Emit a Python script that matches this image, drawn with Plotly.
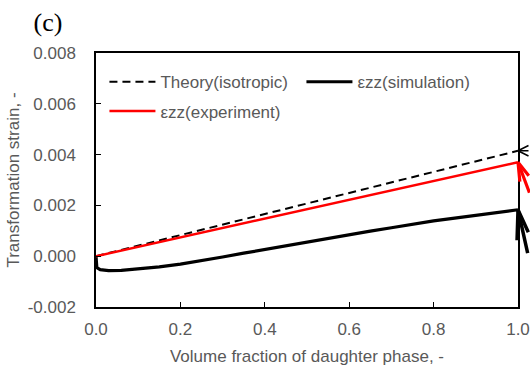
import plotly.graph_objects as go

# Volume fraction of the daughter phase
x_theory = [0.0, 1.0]
y_theory = [0.0, 0.00415]

x_exp = [0.0, 1.0]
y_exp = [0.0, 0.0037]

x_sim = [0.0, 0.002, 0.01, 0.03, 0.06, 0.1, 0.15, 0.2, 0.25, 0.3, 0.35, 0.4,
         0.45, 0.5, 0.55, 0.6, 0.65, 0.7, 0.75, 0.8, 0.85, 0.9, 0.95, 1.0]
y_sim = [0.0, -0.00045, -0.00053, -0.00057, -0.00056, -0.0005, -0.00042,
         -0.00031, -0.00018, -0.00003, 0.00012, 0.00027, 0.00042, 0.00057,
         0.00071, 0.00085, 0.00099, 0.00112, 0.00126, 0.00139, 0.0015,
         0.00161, 0.00172, 0.00183]

x_ticks = [0.0, 0.2, 0.4, 0.6, 0.8, 1.0]
x_tick_labels = ["0.0", "0.2", "0.4", "0.6", "0.8", "1.0"]
y_ticks = [-0.002, 0.0, 0.002, 0.004, 0.006, 0.008]
y_tick_labels = ["-0.002", "0.000", "0.002", "0.004", "0.006", "0.008"]

GREY = "#595959"
FONT = "Liberation Sans, Arial, sans-serif"

fig = go.Figure()
fig.add_trace(go.Scatter(
    x=x_theory, y=y_theory, mode="lines", name="Theory(isotropic)",
    line=dict(color="black", width=2, dash="8px,5px"), legend="legend"))
fig.add_trace(go.Scatter(
    x=x_sim, y=y_sim, mode="lines", name="εzz(simulation)",
    line=dict(color="black", width=3.2), legend="legend"))
fig.add_trace(go.Scatter(
    x=x_exp, y=y_exp, mode="lines", name="εzz(experiment)",
    line=dict(color="#ff0000", width=2.5), legend="legend2"))

# Pointer arrows at the end of each curve (shaft + two head arms)
def arrow(y, shaft, arms, color, width):
    for dx, dy in [shaft] + arms:
        fig.add_annotation(x=1.0, y=y, xref="x", yref="y", text="",
                           showarrow=True, arrowhead=0, ax=dx, ay=dy,
                           arrowcolor=color, arrowwidth=width, standoff=0)

arrow(y_theory[-1], (45, 0), [(14, -6), (14, 6)], "black", 1.5)
arrow(y_exp[-1], (12, 32), [(2, 21), (14, 15)], "#ff0000", 3.2)
arrow(y_sim[-1], (10, 45), [(-1, 32), (11, 24)], "black", 3.5)

axis_common = dict(
    showline=True, linecolor="black", linewidth=1.5, mirror=True,
    ticks="inside", ticklen=5, tickwidth=1, tickcolor="black",
    showgrid=False, zeroline=False,
    tickfont=dict(family=FONT, size=17, color=GREY),
    title_font=dict(family=FONT, size=17, color=GREY),
)

fig.update_xaxes(range=[0, 1], tickvals=x_ticks, ticktext=x_tick_labels,
                 title_text="Volume fraction of daughter phase, -",
                 title_standoff=12, ticklabelstandoff=6, **axis_common)
fig.update_yaxes(range=[-0.002, 0.008], tickvals=y_ticks, ticktext=y_tick_labels,
                 title_text="Transformation strain, -",
                 title_standoff=4, ticklabelstandoff=15, **axis_common)

legend_common = dict(
    orientation="h", bgcolor="rgba(0,0,0,0)", borderwidth=0,
    font=dict(family=FONT, size=17, color=GREY),
    xanchor="left", yanchor="middle", xref="paper", yref="paper",
    entrywidthmode="pixels", itemwidth=46, itemclick=False,
)
fig.update_layout(
    width=530, height=371,
    margin=dict(l=96, r=12, t=53, b=64, autoexpand=False),
    paper_bgcolor="white", plot_bgcolor="white",
    title=dict(text="(c)", x=48 / 530, xanchor="center", xref="container",
               y=1 - 22 / 371, yanchor="middle", yref="container",
               font=dict(family="Liberation Serif, Times New Roman, serif",
                         size=26, color="black")),
    legend=dict(x=0.02, y=0.885, entrywidth=136, **legend_common),
    legend2=dict(x=0.02, y=0.77, entrywidth=136, **legend_common),
    showlegend=True,
)

fig.write_html("out.html")
